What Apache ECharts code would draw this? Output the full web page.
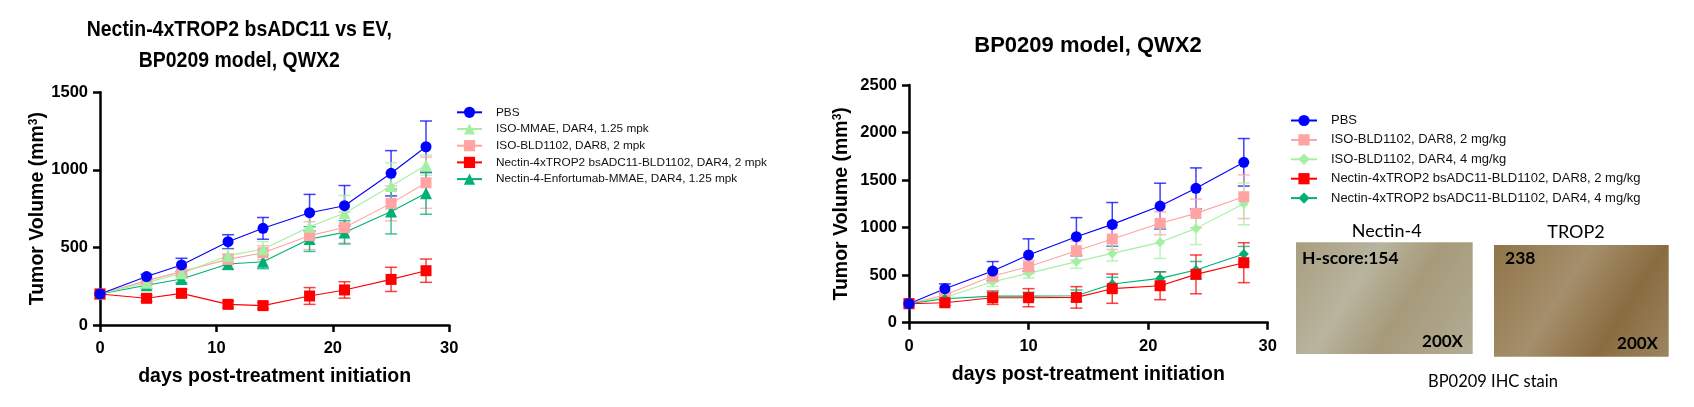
<!DOCTYPE html>
<html>
<head>
<meta charset="utf-8">
<script src="https://cdn.jsdelivr.net/npm/echarts@6/dist/echarts.min.js"></script>
<style>
html,body{margin:0;padding:0;background:#fff;}
#chart{width:1694px;height:407px;}
</style>
</head>
<body>
<div id="chart"></div>
<script>
// ---------- Data: left panel ----------
const days1 = [0, 4, 7, 11, 14, 18, 21, 25, 28];
const names1 = [
  'PBS',
  'ISO-MMAE, DAR4, 1.25 mpk',
  'ISO-BLD1102, DAR8, 2 mpk',
  'Nectin-4xTROP2 bsADC11-BLD1102, DAR4, 2 mpk',
  'Nectin-4-Enfortumab-MMAE, DAR4, 1.25 mpk'
];
const pbs1Mean  = [200, 312, 387, 537, 623, 724, 769, 978, 1149];
const pbs1Sem   = [5, 15, 43, 45, 70, 118, 130, 146, 166];
const mmae1Mean = [200, 273, 333, 447, 488, 634, 720, 896, 1030];
const mmae1Sem  = [5, 20, 30, 40, 50, 80, 115, 150, 65];
const iso1Mean  = [200, 286, 344, 423, 466, 576, 628, 784, 917];
const iso1Sem   = [5, 20, 30, 35, 45, 90, 100, 112, 165];
const bs1Mean   = [200, 172, 204, 133, 125, 187, 226, 294, 350];
const bs1Sem    = [5, 20, 25, 20, 20, 54, 53, 78, 75];
const ev1Mean   = [200, 256, 297, 393, 408, 554, 597, 731, 849];
const ev1Sem    = [5, 20, 25, 35, 45, 80, 75, 144, 135];

// ---------- Data: right panel ----------
const days2 = [0, 3, 7, 10, 14, 17, 21, 24, 28];
const names2 = [
  'PBS',
  'ISO-BLD1102, DAR8, 2 mg/kg',
  'ISO-BLD1102, DAR4, 4 mg/kg',
  'Nectin-4xTROP2 bsADC11-BLD1102, DAR8, 2 mg/kg',
  'Nectin-4xTROP2 bsADC11-BLD1102, DAR4, 4 mg/kg'
];
const pbs2Mean  = [200, 358, 543, 712, 905, 1034, 1227, 1413, 1687];
const pbs2Sem   = [10, 50, 100, 170, 200, 230, 240, 215, 250];
const iso8Mean  = [200, 291, 491, 589, 757, 880, 1045, 1150, 1325];
const iso8Sem   = [10, 35, 60, 70, 100, 110, 120, 150, 230];
const iso4Mean  = [200, 266, 431, 519, 642, 729, 845, 992, 1250];
const iso4Sem   = [10, 30, 50, 50, 70, 80, 170, 170, 220];
const bs8Mean   = [200, 210, 263, 263, 266, 358, 389, 508, 631];
const bs8Sem    = [10, 30, 70, 95, 113, 154, 147, 204, 210];
const bs4Mean   = [200, 252, 280, 280, 284, 407, 466, 554, 722];
const bs4Sem    = [10, 25, 40, 40, 60, 70, 70, 90, 80];

// ---------- Axis ticks ----------
const xTicks = {min: 0, max: 30, interval: 10};
const y1Ticks = {min: 0, max: 1500, interval: 500};
const y2Ticks = {min: 0, max: 2500, interval: 500};

const FONT = 'Arial, "Liberation Sans", sans-serif';
const COLORS = {
  blue: '#0000ff', lgreen: '#a3f0a3', pink: '#ffa3a3', red: '#ff0000', green: '#00b074'
};

function lineSeries(name, days, mean, color, symbol, size, axis) {
  return {
    type: 'line', name: name,
    xAxisIndex: axis, yAxisIndex: axis,
    data: days.map((d, i) => [d, mean[i]]),
    symbol: symbol, symbolSize: size,
    lineStyle: {color: color, width: 1.1},
    itemStyle: {color: color},
    z: 3, animation: false
  };
}
function errSeries(days, mean, sem, color, axis) {
  return {
    type: 'custom',
    xAxisIndex: axis, yAxisIndex: axis,
    data: days.map((d, i) => [d, mean[i] - sem[i], mean[i] + sem[i]]),
    z: 2, silent: true, animation: false,
    renderItem: function (params, api) {
      const lo = api.coord([api.value(0), api.value(1)]);
      const hi = api.coord([api.value(0), api.value(2)]);
      const w = 6;
      const st = {stroke: color, lineWidth: 1.5, opacity: 0.75};
      return {
        type: 'group',
        children: [
          {type: 'line', shape: {x1: lo[0], y1: lo[1], x2: hi[0], y2: hi[1]}, style: st},
          {type: 'line', shape: {x1: hi[0] - w, y1: hi[1], x2: hi[0] + w, y2: hi[1]}, style: st},
          {type: 'line', shape: {x1: lo[0] - w, y1: lo[1], x2: lo[0] + w, y2: lo[1]}, style: st}
        ]
      };
    }
  };
}

function plainNum(v) { return String(v); }

function xAxisCfg(idx) {
  return {
    type: 'value', gridIndex: idx,
    min: xTicks.min, max: xTicks.max, interval: xTicks.interval,
    name: 'days post-treatment initiation', nameLocation: 'middle', nameGap: 42,
    nameTextStyle: {fontFamily: FONT, fontWeight: 'bold', fontSize: 19.5, color: '#000'},
    axisLine: {show: true, lineStyle: {color: '#000', width: 2.5}},
    axisTick: {show: true, inside: false, length: 7, lineStyle: {color: '#000', width: 2.5}},
    axisLabel: {fontFamily: FONT, fontWeight: 'bold', fontSize: 16.5, color: '#000', margin: 15, formatter: plainNum},
    splitLine: {show: false}
  };
}
function yAxisCfg(idx, ticks, gap) {
  return {
    type: 'value', gridIndex: idx,
    min: ticks.min, max: ticks.max, interval: ticks.interval,
    name: 'Tumor Volume (mm{sup|3})', nameLocation: 'middle', nameGap: gap, nameRotate: 90,
    nameTextStyle: {
      fontFamily: FONT, fontWeight: 'bold', fontSize: 19.5, color: '#000',
      rich: {sup: {fontFamily: FONT, fontWeight: 'bold', fontSize: 12, color: '#000', verticalAlign: 'top', padding: [0, 0, 8, 0]}}
    },
    axisLine: {show: true, lineStyle: {color: '#000', width: 2.5}},
    axisTick: {show: true, inside: false, length: 7, lineStyle: {color: '#000', width: 2.5}},
    axisLabel: {fontFamily: FONT, fontWeight: 'bold', fontSize: 16.5, color: '#000', margin: 12, formatter: plainNum},
    splitLine: {show: false}
  };
}

const series = [
  // left panel
  errSeries(days1, pbs1Mean, pbs1Sem, COLORS.blue, 0),
  errSeries(days1, mmae1Mean, mmae1Sem, COLORS.lgreen, 0),
  errSeries(days1, iso1Mean, iso1Sem, COLORS.pink, 0),
  errSeries(days1, bs1Mean, bs1Sem, COLORS.red, 0),
  errSeries(days1, ev1Mean, ev1Sem, COLORS.green, 0),
  lineSeries(names1[4], days1, ev1Mean, COLORS.green, 'triangle', 12, 0),
  lineSeries(names1[2], days1, iso1Mean, COLORS.pink, 'rect', 11, 0),
  lineSeries(names1[1], days1, mmae1Mean, COLORS.lgreen, 'triangle', 12, 0),
  lineSeries(names1[3], days1, bs1Mean, COLORS.red, 'rect', 11, 0),
  lineSeries(names1[0], days1, pbs1Mean, COLORS.blue, 'circle', 11, 0),
  // right panel
  errSeries(days2, pbs2Mean, pbs2Sem, COLORS.blue, 1),
  errSeries(days2, iso8Mean, iso8Sem, COLORS.pink, 1),
  errSeries(days2, iso4Mean, iso4Sem, COLORS.lgreen, 1),
  errSeries(days2, bs8Mean, bs8Sem, COLORS.red, 1),
  errSeries(days2, bs4Mean, bs4Sem, COLORS.green, 1),
  lineSeries(names2[2], days2, iso4Mean, COLORS.lgreen, 'diamond', 10, 1),
  lineSeries(names2[1], days2, iso8Mean, COLORS.pink, 'rect', 11, 1),
  lineSeries(names2[4], days2, bs4Mean, COLORS.green, 'diamond', 10, 1),
  lineSeries(names2[3], days2, bs8Mean, COLORS.red, 'rect', 11, 1),
  lineSeries(names2[0], days2, pbs2Mean, COLORS.blue, 'circle', 11, 1)
];

const chart = echarts.init(document.getElementById('chart'), null, {renderer: 'canvas'});
chart.setOption({
  backgroundColor: '#ffffff',
  animation: false,
  grid: [
    {left: 100, top: 92.3, width: 349.3, height: 232.7},
    {left: 909, top: 85, width: 358.7, height: 237.7}
  ],
  xAxis: [xAxisCfg(0), xAxisCfg(1)],
  yAxis: [yAxisCfg(0, y1Ticks, 50), yAxisCfg(1, y2Ticks, 57)],
  legend: [
    {
      data: names1, orient: 'vertical', left: 456, top: 106.3, padding: 0,
      itemWidth: 25, itemHeight: 14, itemGap: 4.7,
      textStyle: {fontFamily: FONT, fontSize: 11.8, color: '#111', padding: [0, 0, 0, 9]}
    },
    {
      data: names2, orient: 'vertical', left: 1290, top: 114, padding: 0,
      itemWidth: 26, itemHeight: 14, itemGap: 6.4,
      textStyle: {fontFamily: FONT, fontSize: 13, color: '#111', padding: [0, 0, 0, 9]}
    }
  ],
  graphic: [
    {type: 'text', x: 239.3, y: 30.3, scaleX: 0.884, silent: true,
     style: {text: 'Nectin-4xTROP2 bsADC11 vs EV,', font: 'bold 22px ' + FONT, fill: '#000', align: 'center', verticalAlign: 'middle'}},
    {type: 'text', x: 239.3, y: 61, scaleX: 0.884, silent: true,
     style: {text: 'BP0209 model, QWX2', font: 'bold 22px ' + FONT, fill: '#000', align: 'center', verticalAlign: 'middle'}},
    {type: 'text', x: 1088, y: 46, silent: true,
     style: {text: 'BP0209 model, QWX2', font: 'bold 22px ' + FONT, fill: '#000', align: 'center', verticalAlign: 'middle'}},
    // IHC panels (photos represented as tinted blocks)
    {type: 'rect', silent: true, shape: {x: 1296, y: 242.3, width: 176.7, height: 111.7},
     style: {fill: new echarts.graphic.LinearGradient(0, 0, 1, 1, [
       {offset: 0, color: '#a99e80'}, {offset: 0.35, color: '#b8b49e'}, {offset: 0.6, color: '#a69a7a'}, {offset: 1, color: '#b3ad95'}])}},
    {type: 'rect', silent: true, shape: {x: 1494, y: 245, width: 174.7, height: 111.7},
     style: {fill: new echarts.graphic.LinearGradient(0, 0, 1, 1, [
       {offset: 0, color: '#8f7448'}, {offset: 0.4, color: '#a58f6c'}, {offset: 0.7, color: '#8a6c40'}, {offset: 1, color: '#9c8560'}])}},
    {type: 'text', x: 1386.7, y: 231, silent: true,
     style: {text: 'Nectin-4', font: '18px Lato, "Open Sans", sans-serif', fill: '#000', align: 'center', verticalAlign: 'middle'}},
    {type: 'text', x: 1576, y: 232, silent: true,
     style: {text: 'TROP2', font: '18px Lato, "Open Sans", sans-serif', fill: '#000', align: 'center', verticalAlign: 'middle'}},
    {type: 'text', x: 1302, y: 258, silent: true,
     style: {text: 'H-score:154', font: 'bold 17.5px Lato, "Open Sans", sans-serif', fill: '#000', align: 'left', verticalAlign: 'middle'}},
    {type: 'text', x: 1505, y: 258, silent: true,
     style: {text: '238', font: 'bold 17.5px Lato, "Open Sans", sans-serif', fill: '#000', align: 'left', verticalAlign: 'middle'}},
    {type: 'text', x: 1463, y: 342, silent: true,
     style: {text: '200X', font: 'bold 17px Lato, "Open Sans", sans-serif', fill: '#000', align: 'right', verticalAlign: 'middle'}},
    {type: 'text', x: 1658, y: 344, silent: true,
     style: {text: '200X', font: 'bold 17px Lato, "Open Sans", sans-serif', fill: '#000', align: 'right', verticalAlign: 'middle'}},
    {type: 'text', x: 1493, y: 382, silent: true,
     style: {text: 'BP0209 IHC stain', font: '16.5px Lato, "Open Sans", sans-serif', fill: '#000', align: 'center', verticalAlign: 'middle'}}
  ],
  series: series
});
</script>
</body>
</html>
